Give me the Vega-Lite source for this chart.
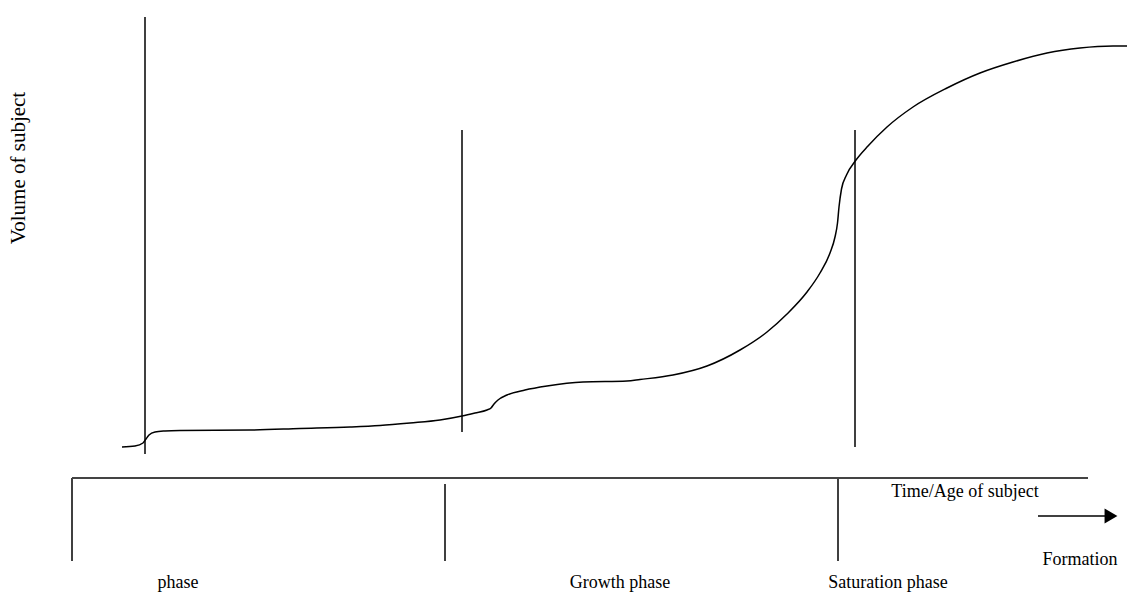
{
  "$schema": "https://vega.github.io/schema/vega-lite/v6.json",
  "width": 1133,
  "height": 594,
  "padding": 0,
  "autosize": {"type": "fit", "contains": "padding"},
  "background": "white",
  "config": {"view": {"stroke": null}},
  "datasets": {
    "curve": [
      {"t":122,"v":147},{"t":135,"v":148},{"t":143,"v":151},{"t":146,"v":155},{"t":149,"v":159},{"t":155,"v":162},{"t":165,"v":163},{"t":180,"v":163.5},{"t":250,"v":164},{"t":300,"v":165.5},{"t":350,"v":167},{"t":380,"v":168.5},{"t":410,"v":171},{"t":440,"v":174},{"t":462,"v":178},{"t":475,"v":181},{"t":487,"v":184},{"t":491,"v":186},{"t":494,"v":190},{"t":498,"v":194},{"t":507,"v":199},{"t":525,"v":204},{"t":547,"v":208},{"t":583,"v":212},{"t":627,"v":213},{"t":640,"v":214.5},{"t":673,"v":219},{"t":707,"v":228},{"t":740,"v":244},{"t":767,"v":262},{"t":787,"v":280},{"t":807,"v":302},{"t":820,"v":321},{"t":830,"v":341},{"t":835,"v":357},{"t":837.5,"v":371},{"t":839,"v":387},{"t":841.5,"v":405},{"t":846.5,"v":419},{"t":856,"v":434},{"t":868,"v":448},{"t":887,"v":467},{"t":913,"v":487},{"t":947,"v":506},{"t":980,"v":521},{"t":1013,"v":532},{"t":1047,"v":541},{"t":1080,"v":546},{"t":1113,"v":548},{"t":1127,"v":548}
    ],
    "dividers": [
      {"t":145,"v":577,"v2":140},
      {"t":462,"v":464,"v2":162},
      {"t":855,"v":464,"v2":147},
      {"t":72,"v":116,"v2":33},
      {"t":445,"v":110,"v2":33},
      {"t":838,"v":116,"v2":33}
    ],
    "baseline": [{"t":72,"t2":1088,"v":116}],
    "arrow": [{"t":1038,"t2":1106,"v":78}],
    "arrowhead": [{"t":1111,"v":78}],
    "labels": [
      {"t":178,"v":11,"label":"phase"},
      {"t":620,"v":11,"label":"Growth phase"},
      {"t":888,"v":11,"label":"Saturation phase"},
      {"t":1080,"v":34,"label":"Formation"},
      {"t":965,"v":102,"label":"Time/Age of subject"}
    ],
    "ytitle": [{"t":19,"v":426,"label":"Volume of subject"}]
  },
  "layer": [
    {
      "data": {"name": "curve"},
      "mark": {"type": "line", "interpolate": "monotone", "color": "black", "strokeWidth": 1.5},
      "encoding": {
        "x": {"field": "t", "type": "quantitative", "scale": {"domain": [0, 1133], "nice": false, "zero": false}, "axis": null},
        "y": {"field": "v", "type": "quantitative", "scale": {"domain": [0, 594], "nice": false, "zero": false}, "axis": null},
        "order": {"field": "t", "type": "quantitative"}
      }
    },
    {
      "data": {"name": "dividers"},
      "mark": {"type": "rule", "color": "black", "strokeWidth": 1.5},
      "encoding": {
        "x": {"field": "t", "type": "quantitative"},
        "y": {"field": "v", "type": "quantitative"},
        "y2": {"field": "v2"}
      }
    },
    {
      "data": {"name": "baseline"},
      "mark": {"type": "rule", "color": "#444444", "strokeWidth": 2},
      "encoding": {
        "x": {"field": "t", "type": "quantitative"},
        "x2": {"field": "t2"},
        "y": {"field": "v", "type": "quantitative"}
      }
    },
    {
      "data": {"name": "arrow"},
      "mark": {"type": "rule", "color": "black", "strokeWidth": 1.5},
      "encoding": {
        "x": {"field": "t", "type": "quantitative"},
        "x2": {"field": "t2"},
        "y": {"field": "v", "type": "quantitative"}
      }
    },
    {
      "data": {"name": "arrowhead"},
      "mark": {"type": "point", "shape": "triangle-right", "filled": true, "color": "black", "opacity": 1, "size": 220},
      "encoding": {
        "x": {"field": "t", "type": "quantitative"},
        "y": {"field": "v", "type": "quantitative"}
      }
    },
    {
      "data": {"name": "labels"},
      "mark": {"type": "text", "font": "Liberation Serif", "fontSize": 18, "color": "black", "align": "center", "baseline": "middle"},
      "encoding": {
        "x": {"field": "t", "type": "quantitative"},
        "y": {"field": "v", "type": "quantitative"},
        "text": {"field": "label"}
      }
    },
    {
      "data": {"name": "ytitle"},
      "mark": {"type": "text", "font": "Liberation Serif", "fontSize": 21, "color": "black", "align": "center", "baseline": "middle", "angle": 270},
      "encoding": {
        "x": {"field": "t", "type": "quantitative"},
        "y": {"field": "v", "type": "quantitative"},
        "text": {"field": "label"}
      }
    }
  ]
}
